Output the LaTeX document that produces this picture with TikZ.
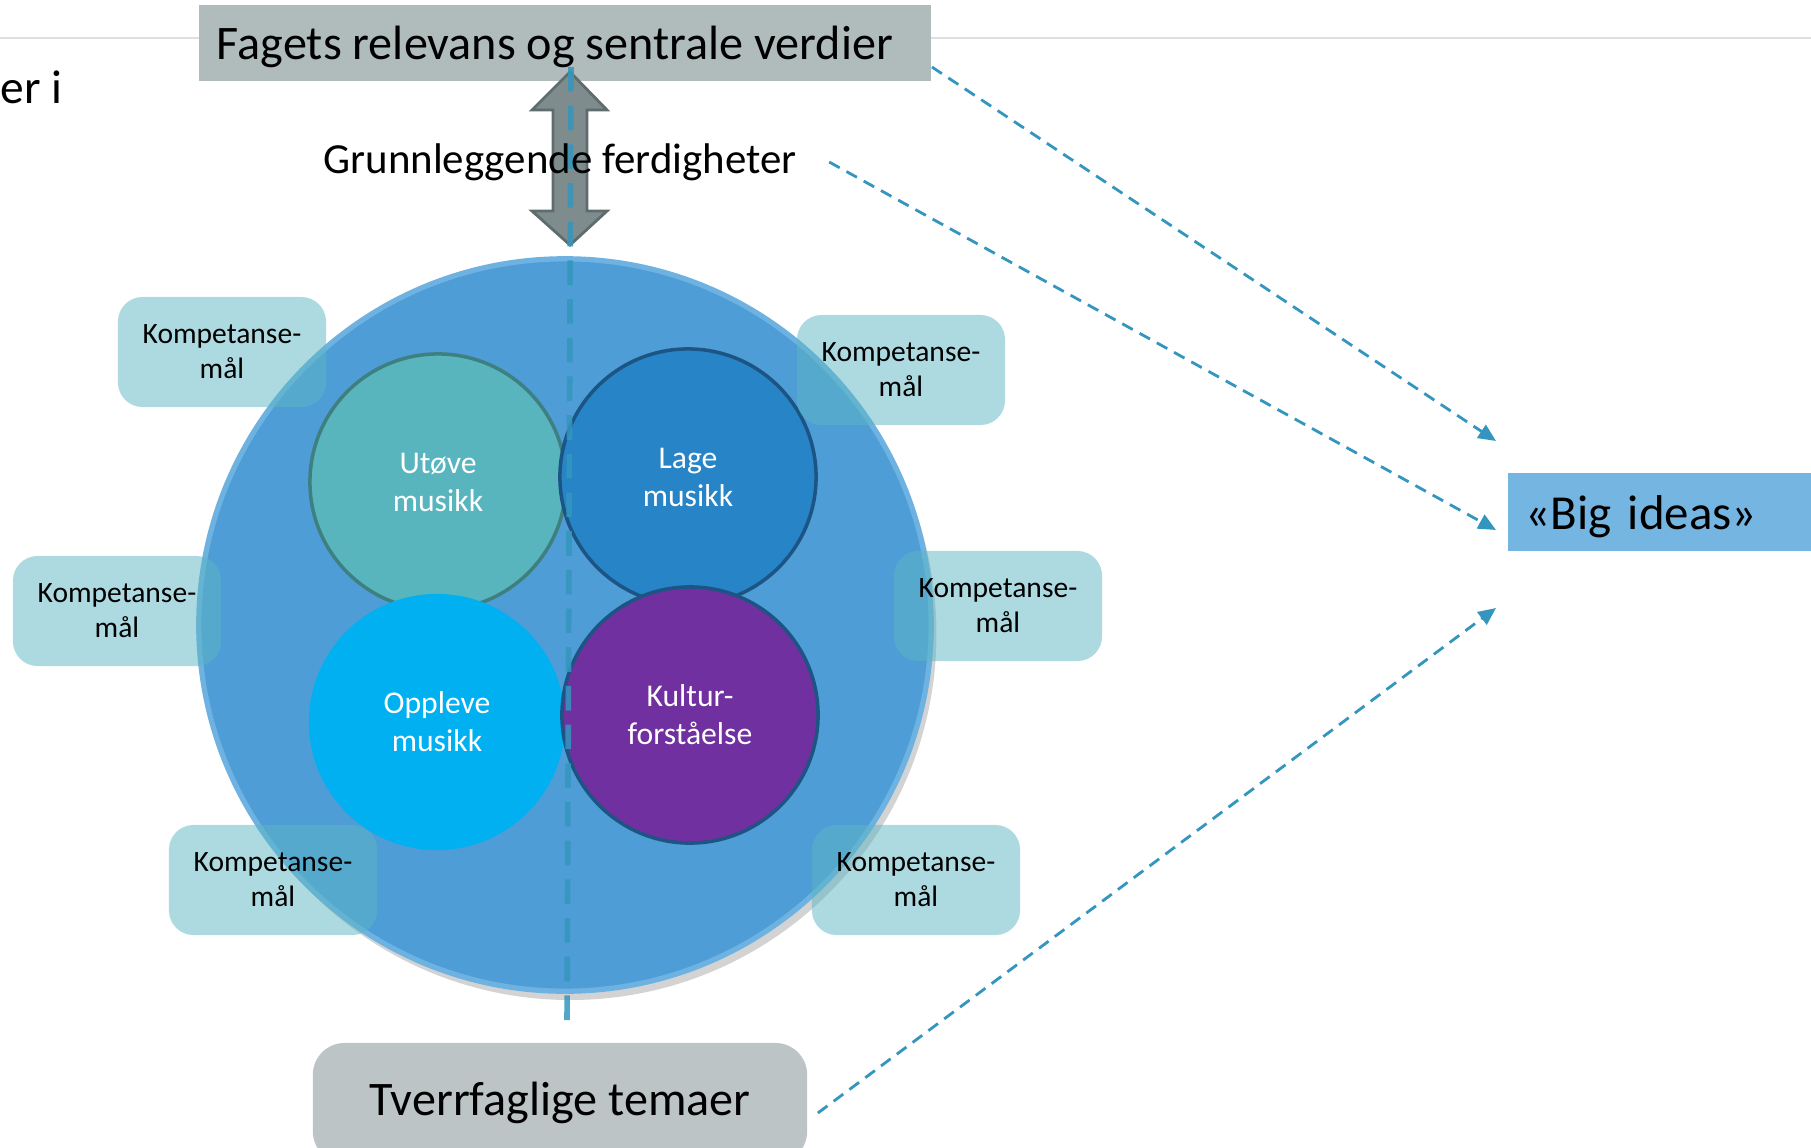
\documentclass[tikz,border=0pt]{standalone}
\usepackage{fontspec}
\setmainfont{Carlito}
\usetikzlibrary{positioning,shadows,arrows.meta}
\definecolor{boxgray}{RGB}{176,188,188}
\definecolor{botgray}{RGB}{189,196,198}
\definecolor{bigblue}{RGB}{78,157,214}
\definecolor{ringblue}{RGB}{110,178,225}
\definecolor{ideablue}{RGB}{117,181,226}
\definecolor{linkblue}{RGB}{52,150,190}
\definecolor{kmalfill}{RGB}{92,182,195}
\definecolor{utovefill}{RGB}{88,181,190}
\definecolor{utoveedge}{RGB}{62,128,128}
\definecolor{lagefill}{RGB}{38,132,199}
\definecolor{lageedge}{RGB}{28,84,132}
\definecolor{opplevefill}{RGB}{0,176,240}
\definecolor{kulturfill}{RGB}{112,48,160}
\definecolor{arrowgray}{RGB}{127,140,141}
\definecolor{arrowedge}{RGB}{95,108,110}
\begin{document}
\begin{tikzpicture}[x=0.01cm,y=-0.01cm,
  kmal/.style={rectangle, rounded corners=7pt, fill=kmalfill, fill opacity=0.5, text opacity=1, minimum width=2.08cm, minimum height=1.1cm, inner sep=0pt, align=center, font=\fontsize{8.4}{10}\selectfont},
  disc/.style={circle, minimum size=2.56cm, inner sep=0pt, align=center, text=white, font=\fontsize{9}{10.8}\selectfont},
  link/.style={draw=linkblue, line width=0.8pt, dash pattern=on 3.4pt off 2.2pt, -{Triangle[length=5pt,width=4.4pt]}}]
\useasboundingbox (0,0) rectangle (1811,1148);
\draw[gray!25, line width=0.8pt] (0,38) -- (1811,38);

\node[circle, minimum size=7.32cm, inner sep=0pt, fill=bigblue, draw=ringblue, line width=1.5pt,
  drop shadow={shadow xshift=1.5pt, shadow yshift=-2.5pt, opacity=0.35}] (whole) at (565,625) {};
\node[disc, fill=utovefill, draw=utoveedge, line width=1pt] (utove) at (438,482) {Utøve\\musikk};
\node[disc, fill=lagefill, draw=lageedge, line width=1pt] (lage) at (688,477) {Lage\\musikk};
\node[disc, fill=opplevefill] (oppleve) at (437,722) {Oppleve\\musikk};
\node[disc, fill=kulturfill, draw=lageedge, line width=1pt] (kultur) at (690,715) {Kultur-\\forståelse};

\node[kmal] (k1) at (222,352) {Kompetanse-\\mål};
\node[kmal] (k2) at (901,370) {Kompetanse-\\mål};
\node[kmal] (k3) at (117,611) {Kompetanse-\\mål};
\node[kmal] (k4) at (998,606) {Kompetanse-\\mål};
\node[kmal] (k5) at (273,880) {Kompetanse-\\mål};
\node[kmal] (k6) at (916,880) {Kompetanse-\\mål};

\node[rectangle, fill=boxgray, minimum width=7.32cm, minimum height=0.76cm, inner sep=0pt, text height=0.43cm, text depth=0.1cm,
  font=\fontsize{13.7}{15}\selectfont] (fagets) at (565,43) {\hspace{-0.2cm}Fagets relevans og sentrale verdier};
\node[anchor=west, inner sep=0pt, font=\fontsize{13.5}{15}\selectfont] (eri) at (0,87) {er i};
\node[rectangle, rounded corners=9pt, fill=botgray, minimum width=4.94cm, minimum height=1.2cm, inner sep=0pt,
  font=\fontsize{13.7}{15}\selectfont] (tverr) at (560,1103) {Tverrfaglige temaer};
\node[rectangle, fill=ideablue, text width=2.7cm, align=left, minimum height=0.77cm, inner xsep=0.18cm, inner ysep=0pt, anchor=west,
  text height=0.44cm, text depth=0.1cm, font=\fontsize{13.9}{15}\selectfont] (ideas) at (1507,512) {«Big ideas»};

\draw[fill=arrowgray, draw=arrowedge, line width=0.8pt] (570,72) -- (607,110) -- (587,110) -- (587,211)
  -- (607,211) -- (570,245) -- (532,211) -- (553,211) -- (553,110) -- (532,110) -- cycle;
\coordinate (axtop) at (571,67);
\coordinate (axbot) at (567,1026);
\draw[linkblue, line width=1.6pt, dash pattern=on 7pt off 4pt, opacity=0.85] (axtop) -- (axbot);
\node[inner sep=0pt, font=\fontsize{12.2}{14}\selectfont] (grunn) at (560,162) {Grunnleggende ferdigheter};

\coordinate (g1) at (1496,441);
\coordinate (g2) at (1496,530);
\coordinate (g3) at (1496,608);
\draw[link] (fagets.east |- 0,67) -- (g1);
\draw[link] ([xshift=0.32cm]grunn.east) -- (g2);
\draw[link] ([xshift=0.1cm,yshift=-0.1cm]tverr.east) -- (g3);
\end{tikzpicture}
\end{document}
